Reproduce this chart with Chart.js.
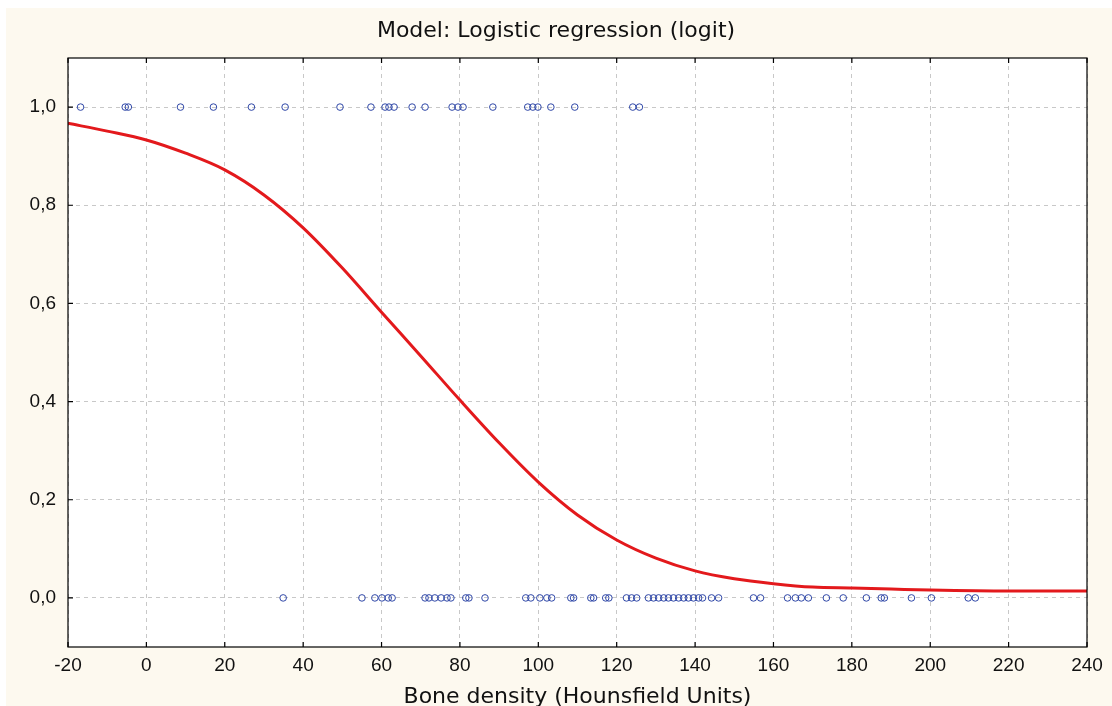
<!DOCTYPE html>
<html>
<head>
<meta charset="utf-8">
<script src="https://cdn.jsdelivr.net/npm/chart.js@4/dist/chart.umd.min.js"></script>
<style>
  html, body { margin: 0; padding: 0; background: #fff; }
  #wrap { width: 1112px; height: 706px; }
</style>
</head>
<body>
<div id="wrap"><canvas id="logitChart" width="1112" height="706"></canvas></div>
<script>
// observed cases, bone density (HU)
const positiveX = [-16.8, -5.4, -4.6, 8.7, 17.1, 26.8, 35.4, 49.4, 57.3, 60.9, 61.9, 63.2, 67.8,
    71.1, 78.0, 79.5, 80.8, 88.4, 97.3, 98.6, 99.9, 103.2, 109.3, 124.1, 125.8];
const negativeX = [34.9, 55.0, 58.3, 60.1, 61.7, 62.7, 71.1, 72.1, 73.6, 75.2, 76.7, 77.7, 81.5,
    82.3, 86.4, 96.8, 98.1, 100.4, 102.2, 103.4, 108.3, 109.0, 113.4, 114.1, 117.2, 118.0, 122.5,
    123.8, 125.1, 128.1, 129.4, 130.7, 132.0, 133.2, 134.5, 135.8, 137.1, 138.3, 139.6, 140.9,
    141.9, 144.2, 146.0, 154.9, 156.7, 163.6, 165.6, 167.1, 168.9, 173.5, 177.8, 183.7, 187.5,
    188.3, 195.2, 200.3, 209.7, 211.5];

// fitted curve
const curveX = [-20, -10, 0, 10, 20, 30, 40, 50, 60, 70, 80, 90, 100, 110, 120, 130, 140, 150,
    160, 170, 180, 190, 200, 220, 240];
const curveY = [0.967, 0.951, 0.933, 0.906, 0.872, 0.821, 0.754, 0.672, 0.582, 0.493, 0.403,
    0.316, 0.236, 0.169, 0.118, 0.081, 0.055, 0.039, 0.029, 0.022, 0.020, 0.018, 0.016, 0.014, 0.014];

const xTicks = [-20, 0, 20, 40, 60, 80, 100, 120, 140, 160, 180, 200, 220, 240];
const yTicks = [0, 0.2, 0.4, 0.6, 0.8, 1.0];

const FONT = 'Liberation Sans, Arial, sans-serif';
const TITLE_FONT = 'DejaVu Sans, sans-serif';

const framePlugin = {
    id: 'frame',
    beforeDraw(chart) {
        const c = chart.ctx;
        const a = chart.chartArea;
        c.save();
        c.fillStyle = '#ffffff';
        c.fillRect(0, 0, chart.width, chart.height);
        c.fillStyle = '#fdf9ef';
        c.fillRect(6, 8, chart.width - 6, chart.height - 8);
        c.fillStyle = '#ffffff';
        c.fillRect(a.left, a.top, a.right - a.left, a.bottom - a.top);
        c.restore();
    },
    afterDatasetsDraw(chart) {
        const c = chart.ctx;
        const a = chart.chartArea;
        const xs = chart.scales.x;
        const ys = chart.scales.y;
        c.save();
        c.strokeStyle = '#000';
        c.lineWidth = 1.2;
        c.strokeRect(a.left, a.top, a.right - a.left, a.bottom - a.top);
        c.beginPath();
        xTicks.forEach(v => {
            const px = xs.getPixelForValue(v);
            c.moveTo(px, a.bottom); c.lineTo(px, a.bottom - 5);
            c.moveTo(px, a.top); c.lineTo(px, a.top + 5);
        });
        yTicks.forEach(v => {
            const py = ys.getPixelForValue(v);
            c.moveTo(a.left, py); c.lineTo(a.left + 5, py);
        });
        c.stroke();
        c.restore();
    }
};

const ctx = document.getElementById('logitChart').getContext('2d');
const logitChart = new Chart(ctx, {
    type: 'scatter',
    data: {
        datasets: [{
            type: 'line',
            label: 'Logit',
            data: curveX.map((x, i) => ({ x: x, y: curveY[i] })),
            borderColor: '#e3191c',
            borderWidth: 3,
            pointRadius: 0,
            cubicInterpolationMode: 'monotone',
            fill: false
        }, {
            label: 'Observed',
            data: positiveX.map(x => ({ x: x, y: 1 })).concat(negativeX.map(x => ({ x: x, y: 0 }))),
            borderColor: '#3048a8',
            backgroundColor: 'rgba(0,0,0,0)',
            borderWidth: 1,
            pointRadius: 3.3
        }]
    },
    options: {
        responsive: false,
        animation: false,
        layout: { padding: 0 },
        plugins: {
            legend: { display: false },
            tooltip: { enabled: false },
            title: {
                display: true,
                text: 'Model: Logistic regression (logit)',
                color: '#111',
                font: { family: TITLE_FONT, size: 22, weight: 'normal' },
                padding: { top: 18, bottom: 13.6 }
            }
        },
        scales: {
            x: {
                type: 'linear',
                min: -20,
                max: 240,
                afterBuildTicks: s => { s.ticks = xTicks.map(v => ({ value: v })); },
                afterFit: s => { s.height = 59; },
                grid: { color: '#c8c8c8', drawTicks: false },
                border: { display: false, dash: [4, 4] },
                ticks: {
                    color: '#111',
                    font: { family: FONT, size: 19 },
                    padding: 7,
                    maxRotation: 0
                },
                title: {
                    display: true,
                    text: 'Bone density (Hounsfield Units)',
                    color: '#111',
                    font: { family: TITLE_FONT, size: 22 },
                    padding: { top: 0, bottom: -4 }
                }
            },
            y: {
                min: -0.1,
                max: 1.1,
                afterBuildTicks: s => { s.ticks = yTicks.map(v => ({ value: v })); },
                afterFit: s => { s.width = 68; },
                grid: { color: '#c8c8c8', drawTicks: false },
                border: { display: false, dash: [4, 4] },
                ticks: {
                    color: '#111',
                    font: { family: FONT, size: 19 },
                    padding: 12,
                    callback: v => v.toFixed(1).replace('.', ',')
                }
            },
            yRight: {
                position: 'right',
                min: -0.1,
                max: 1.1,
                afterFit: s => { s.width = 25; },
                grid: { display: false },
                border: { display: false },
                ticks: { display: false }
            }
        }
    },
    plugins: [framePlugin]
});
</script>
</body>
</html>
